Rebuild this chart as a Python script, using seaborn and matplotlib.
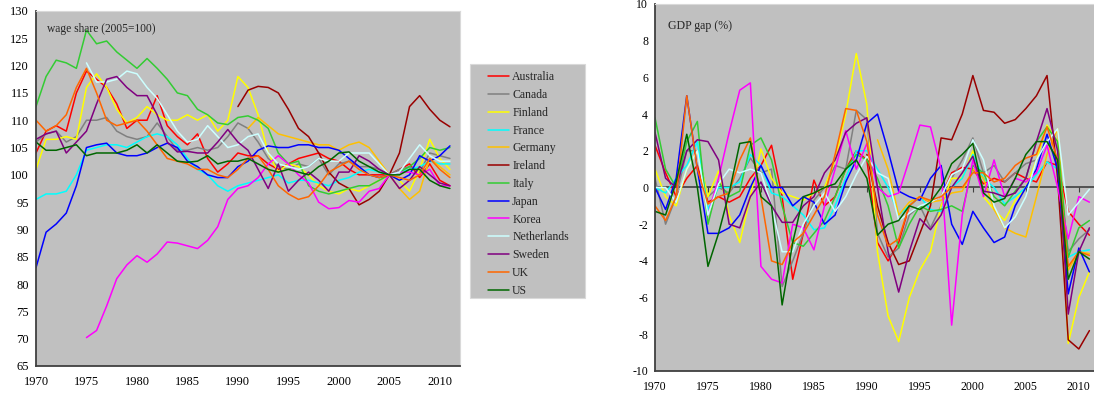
import numpy as np
import pandas as pd
import matplotlib
matplotlib.use("Agg")
import matplotlib.pyplot as plt
from matplotlib.patches import Rectangle
import seaborn as sns

years = list(range(1970, 2012))
countries = ["Australia", "Canada", "Finland", "France", "Germany", "Ireland", "Italy",
             "Japan", "Korea", "Netherlands", "Sweden", "UK", "US"]
colors = ["#FF0000", "#808080", "#FFFF00", "#00FFFF", "#FFC000", "#990000", "#33CC33",
          "#0000FF", "#FF00FF", "#CCFFFF", "#800080", "#FF6600", "#006600"]
nan = np.nan

# Wage share, index 2005=100
ws_australia = [104, 108, 109, 108, 115, 119, 117.5, 116, 113, 108.5, 110, 110, 114.5, 109, 107, 105.5,
                107.5, 103, 100.5, 102, 104, 103.5, 103.5, 102, 101, 102, 103, 103.5, 104, 103, 102.5,
                101, 100, 100, 100, 100, 101, 102, 99.5, 102, 99, 98]
ws_canada = [106, 107.5, 108, 106, 107, 110, 110, 110.5, 108, 107, 106.5, 107, 109.5, 107, 104.5, 104.5,
             105, 104.5, 105, 107, 109.5, 108.5, 106, 103, 101.5, 101, 102, 101.5, 103, 100, 102,
             102.5, 101.5, 101.5, 101, 100, 101, 101.5, 100.5, 104, 103.5, 103]
ws_finland = [101, 106.5, 106.5, 107, 106.5, 116, 118.5, 116, 112, 109.5, 110.5, 112.5, 111, 110, 110, 111,
              110, 111, 108, 110, 118, 116, 111, 104, 100.5, 102, 101.5, 100, 98, 97, 96.5,
              97.5, 97, 98, 99, 100, 99, 97, 101, 106.5, 103, 101]
ws_france = [95.5, 96.5, 96.5, 97, 100, 104.5, 105, 105.5, 105.5, 105, 106, 107, 107.5, 107, 105.5, 103,
             101, 100, 98, 97, 98, 98.5, 99, 99.5, 100, 98.5, 99, 99, 98.5, 98, 99,
             99.5, 100.5, 101, 100.5, 100, 100.5, 101, 101.5, 102.5, 102, 102]
ws_germany = [nan] * 21 + [108.5, 110.5, 109, 107.5, 107, 106.5, 106, 105.5, 105.5, 104.5,
                           105.5, 106, 105, 102.5, 100, 97.5, 95.5, 97, 103, 101.5, 100]
ws_ireland = [nan] * 20 + [112.5, 115.5, 116.2, 116, 115, 112, 108.5, 107, 104, 100.5, 98.5,
                           97.5, 94.5, 95.5, 97, 100, 104, 112.5, 114.5, 112, 110, 108.8]
ws_italy = [112.5, 118, 121, 120.5, 119.5, 126.5, 124, 124.5, 122.5, 121, 119.5, 121.3, 119.5, 117.5, 115,
            114.5, 112, 111, 109.5, 109.2, 110.5, 110.8, 110, 108.5, 104, 102, 102.5, 98, 97, 96.5,
            97, 97.5, 98, 98, 99, 100, 100.5, 101.5, 103, 105, 104.5, 105]
ws_japan = [83, 89.5, 91, 93, 98, 105, 105.5, 105.8, 104, 103.5, 103.5, 104, 105, 105.8, 105, 102.5,
            101.5, 100, 99.5, 99.5, 101.5, 102.5, 104.5, 105.3, 105, 105, 105.5, 105.5, 105, 105, 104.5,
            103, 101.5, 100, 99.5, 100, 99, 100, 103.5, 102.5, 103.5, 105.3]
ws_korea = [nan] * 5 + [70.2, 71.5, 76, 81, 83.5, 85.2, 84, 85.5, 87.7, 87.5, 87, 86.5, 88, 90.5, 95.5,
                        97.5, 98, 99.5, 102, 103.5, 102, 100, 98.5, 95, 93.8, 94, 95.3, 95, 97, 97.5,
                        100, 100.5, 100.5, 100, 101, 98, 98]
ws_netherlands = [nan] * 5 + [120.5, 117, 117, 117.5, 119, 118.5, 116, 114, 111, 108, 106, 106.5, 109,
                              107, 105, 105.5, 107, 107.5, 104, 102, 101.5, 101, 101.5, 103, 102.5,
                              102.5, 104, 104, 104, 102, 100, 100.5, 103, 105.5, 103.5, 102.5, 102.5]
ws_sweden = [106.5, 107.5, 108, 104, 106, 108, 113, 117.5, 118, 116, 114.5, 114.5, 111, 106, 104.2, 104.3,
             104, 104, 106, 108.3, 106, 104.5, 101, 97.5, 102, 97, 99, 100.5, 99, 97, 100.5,
             100.5, 103.5, 102.5, 101, 100, 97.5, 99, 101.5, 100, 98.5, 98]
ws_uk = [110, 108, 109, 111, 116, 119.5, 115, 110, 109, 109.5, 110, 108, 105.5, 103, 102.5, 102,
         101, 101, 100, 99.5, 101, 103, 103.5, 101, 98, 96.5, 95.5, 96, 98, 100.5, 101.5,
         102.5, 101, 100, 99.5, 100, 99.5, 99, 100, 103, 101, 99.5]
ws_us = [106, 104.5, 104.5, 105, 105.5, 103.5, 104, 104, 104, 104.5, 105.5, 104, 105.5, 104, 102.5, 102.3,
         102.5, 103.5, 102, 102.5, 102.5, 103, 102, 101, 100.5, 101, 100.5, 100, 101.5, 102.5, 104,
         104.2, 102.5, 101.5, 100.5, 100, 100, 101, 101, 99, 98, 97.5]

# Output gap, % of potential GDP
gap_australia = [2.3, 0.8, -0.5, 0.5, 1.2, -0.8, -0.5, -0.8, -0.5, 0.5, 1.2, 2.3, -0.5, -5, -2.5, 0.4,
                 -1, -0.5, 1, 2, 1.5, -3, -4, -3, -1, -0.5, -0.8, -0.5, 0.8, 1.1, 1.0,
                 0.2, 0.5, 0.3, 0.8, 0.5, 0.3, 1.4, 1.2, -1.3, -2, -2.6]
gap_canada = [0.5, -2, -0.5, 2, 2, -0.5, 0, -0.3, 0.5, 1.6, 0.8, 1.0, -5.4, -4, -2.5, -0.7,
              0, 1.2, 1, 4.2, 3.7, -2.5, -3.8, -3.3, -1.5, -1, -2.2, -1, 0.5, 1.5, 2.7,
              0.8, 1.2, 0.3, 0.8, 1.3, 1.5, 2.5, 1.5, -3.5, -2.8, -2.3]
gap_finland = [1, -0.5, -1, 1, 2, -0.5, 0.9, -1.5, -3, -0.5, 2.1, 0.5, -0.3, -0.5, -0.7, -0.3,
               0, 1.5, 4, 7.3, 4.5, -3.5, -7, -8.4, -6, -4.5, -3.5, -1, 0.5, 0.5, 2,
               -0.5, -1.2, -1.8, -0.7, 0, 1.5, 3.4, 2.5, -8.5, -6, -4.6]
gap_france = [0, -0.3, 0.5, 1.2, 2.5, -1.2, 0, 0, 0.3, 1.8, 1.2, -0.3, -0.5, -1, -1.5, -2.3,
              -2.2, -1, 0.5, 2, 2, 1, 0, -1.5, -1, -0.5, -1.2, -1.3, 0, 0.5, 1.8,
              0.5, 0, -0.9, -0.5, 0, 0.7, 1.4, 1, -3.8, -3.5, -3.4]
gap_germany = [nan] * 21 + [2.6, 1, -1.5, -0.8, -0.5, -0.8, -0.7, -0.3, -0.2, 1.0,
                            0.5, -1.2, -2.2, -2.5, -2.7, -0.5, 1.8, 3.2, -4.5, -3.5, -3.6]
gap_ireland = [nan] * 20 + [1.8, -1, -3, -4.2, -4, -2.5, -1, 2.7, 2.6, 4, 6.1,
                            4.2, 4.1, 3.5, 3.7, 4.3, 5, 6.1, 0.5, -8.3, -8.8, -7.8]
gap_italy = [3.8, 1, 0, 2.5, 3.6, -2, 0.3, -0.5, -0.2, 2.3, 2.7, 1.5, -1.0, -3, -3.2, -2.5,
             -1.8, -0.5, 1, 1.8, 1.5, 0.5, -1, -3.3, -2.0, -1, -1.3, -1.2, -1.0, -1.3, 1.2,
             0.8, -0.5, -1, -0.2, 0.5, 2.5, 3.3, 2.5, -3.8, -2.2, -1.8]
gap_japan = [0, -1.2, 0.5, 5, 1, -2.5, -2.5, -2.2, -1.5, 0, 1.2, 0, 0, -1, -0.5, -0.8,
             -2, -1.5, 0.3, 1.5, 3.5, 4, 2, -0.2, -0.5, -0.7, 0.5, 1.2, -2, -3.1, -1.3,
             -2.2, -3, -2.7, -1, 0, 1, 2.9, 1, -5.8, -3.3, -4.6]
gap_korea = [nan] * 5 + [-1.5, 0.5, 3, 5.3, 5.7, -4.3, -5, -5.2, -2, -2.2, -3.4, -1, 1, 3.1, 1,
                         2.4, 0, -0.5, -0.3, 1.5, 3.4, 3.3, 1, -7.5, -1.5, 1.5, -0.5, 1.5, -0.5,
                         0.5, 0.3, 0.8, 2.3, 0, -2.8, -0.5, -0.8]
gap_netherlands = [0, 0, -0.8, 1, 2, -1.5, 0.2, 1, 0.8, 1, 0.8, -1, -3.5, -3.5, -2, -1,
                   -0.3, -1.3, -0.5, 0.7, 1.7, 0.8, 0.5, -1.8, -1.4, -1.0, -0.8, -0.5, 0.7, 1, 2.6,
                   1.5, -1.0, -2.2, -1.6, -0.5, 1.5, 2.5, 3.2, -1.5, -0.8, -0.1]
gap_sweden = [3, 0.5, 0, 2, 2.6, 2.5, 1.5, -2, -2.2, -0.5, 0.3, -1, -1.9, -1.9, -1.0, -0.5,
              0.8, 1.5, 3, 3.5, 3.8, 0, -3.5, -5.7, -3.5, -1.7, -2.3, -1.5, 0, 0.8, 1.7,
              -0.2, -0.3, -0.5, -0.3, 0.5, 2.5, 4.3, 2, -6.9, -3.5, -2.2]
gap_uk = [-1, -1.8, -0.5, 5, 1, -0.9, -0.5, -0.3, 1.5, 2.7, -0.5, -4, -4.2, -3, -2.5, -1.5,
          -0.5, 1.8, 4.3, 4.2, 2.5, -1.5, -3.2, -2.8, -1, -0.5, -0.7, -0.5, 0, 0, 0.8,
          0.8, 0.3, 0.5, 1.2, 1.6, 1.8, 3.3, 1.5, -4.3, -3.5, -3.7]
gap_us = [-1.3, -1.5, 0.3, 2.9, 0, -4.3, -2.5, -0.3, 2.4, 2.5, -0.5, -1, -6.4, -3, -0.5, -0.3,
          0, 0.2, 1, 1.5, 0.5, -2.6, -2, -1.8, -1, -1.2, -0.8, 0, 1.3, 1.8, 2.4,
          -0.3, -0.8, -0.6, 0.5, 1.8, 2.5, 2.5, 1.5, -5, -3.5, -3.9]

wage_series = [ws_australia, ws_canada, ws_finland, ws_france, ws_germany, ws_ireland, ws_italy,
               ws_japan, ws_korea, ws_netherlands, ws_sweden, ws_uk, ws_us]
gap_series = [gap_australia, gap_canada, gap_finland, gap_france, gap_germany, gap_ireland, gap_italy,
              gap_japan, gap_korea, gap_netherlands, gap_sweden, gap_uk, gap_us]


def long_frame(series_list):
    rows = []
    for name, vals in zip(countries, series_list):
        for yr, v in zip(years, vals):
            rows.append((name, yr, v))
    return pd.DataFrame(rows, columns=["country", "year", "value"]).dropna()


wage_df = long_frame(wage_series)
gap_df = long_frame(gap_series)
palette = dict(zip(countries, colors))

sns.set_theme(style="white")
plt.rcParams["font.family"] = ["Liberation Serif", "DejaVu Serif"]
plt.rcParams["font.size"] = 8
plt.rcParams["axes.unicode_minus"] = False

BG = "#C0C0C0"
AXIS = "#404040"
EDGE = "#D9D9D9"

fig = plt.figure(figsize=(10.94, 3.94), dpi=100)
ax1 = fig.add_axes([0.0329, 0.0711, 0.3876, 0.9010])
ax2 = fig.add_axes([0.5987, 0.0584, 0.4068, 0.9315])

for ax, df, fs in ((ax1, wage_df, 9), (ax2, gap_df, 8.5)):
    ax.set_facecolor(BG)
    sns.lineplot(data=df, x="year", y="value", hue="country", hue_order=countries,
                 palette=palette, linewidth=1.1, ax=ax, legend=(ax is ax1), sort=True,
                 estimator=None)
    ax.set_xlim(1970, 2012)
    ax.set_xticks(range(1970, 2011, 5))
    ax.set_xlabel("")
    ax.set_ylabel("")
    for side in ("left", "bottom"):
        ax.spines[side].set_color(AXIS)
        ax.spines[side].set_linewidth(1.3)
    for side in ("top", "right"):
        ax.spines[side].set_color(EDGE)
        ax.spines[side].set_linewidth(0.8)
    ax.tick_params(axis="both", which="both", direction="out", length=3, width=0.8,
                   color=AXIS, labelsize=fs, labelcolor="black", pad=2)
    ax.tick_params(axis="x", pad=4.5)

ax1.set_ylim(65, 130)
ax1.set_yticks(range(65, 131, 5))
ax1.text(0.027, 0.965, "wage share (2005=100)", transform=ax1.transAxes,
         fontsize=8.3, va="top", ha="left")

ax2.set_ylim(-10, 10)
ax2.set_yticks(range(-10, 11, 2))
ax2.axhline(0, color=AXIS, linewidth=1.2, zorder=1.5)
ax2.vlines(ax2.get_xticks(), -0.25, 0, color=AXIS, linewidth=0.8, zorder=1.5)
ax2.text(0.03, 0.955, "GDP gap (%)", transform=ax2.transAxes,
         fontsize=8.6, va="top", ha="left")

# grey legend panel between the two charts
fig.patches.append(Rectangle((0.4296, 0.2437), 0.1051, 0.5939, transform=fig.transFigure,
                             facecolor=BG, edgecolor=EDGE, linewidth=0.8, zorder=0))
handles, labels = ax1.get_legend_handles_labels()
ax1.get_legend().remove()
leg = fig.legend(handles, labels, loc="upper left", bbox_to_anchor=(0.4460, 0.8190),
                 frameon=False, fontsize=8.5, handlelength=1.8,
                 handletextpad=0.25, labelspacing=0.49, borderpad=0, borderaxespad=0)
for ln in leg.get_lines():
    ln.set_linewidth(1.1)

fig.savefig("out.png", dpi=100, facecolor="white")
